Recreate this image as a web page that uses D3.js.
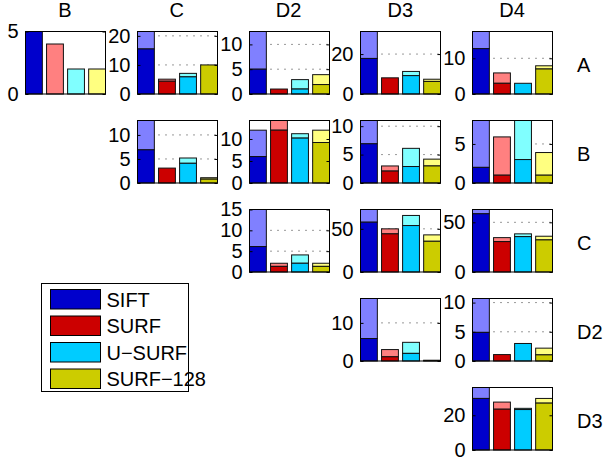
<!DOCTYPE html>
<html><head><meta charset="utf-8">
<script src="https://cdn.jsdelivr.net/npm/d3@7"></script>
<style>
html,body{margin:0;padding:0;background:#fff;}
svg{display:block;font-family:"Liberation Sans",Arial,sans-serif;}
</style></head>
<body>
<svg id="chart" width="606" height="463"></svg>
<script>
// ---- data ----
const rowNames = ["A", "B", "C", "D2", "D3"];
const colNames = ["B", "C", "D2", "D3", "D4"];
const methods = ["SIFT", "SURF", "U\u2212SURF", "SURF\u2212128"];
const panelRow = ["A","A","A","A","A","B","B","B","B","C","C","C","D2","D2","D3"];
const panelCol = ["B","C","D2","D3","D4","C","D2","D3","D4","D2","D3","D4","D3","D4","D4"];
// lower (dark) part of each stacked bar
const darkValues = [
  [5, 0, 0, 0],
  [15.5, 4.4, 5.9, 10],
  [5, 1, 1, 1.9],
  [17.8, 8.1, 9.2, 6.3],
  [12.7, 3, 3, 7],
  [6.9, 3.1, 4.1, 0.8],
  [6, 12, 10.2, 9.2],
  [6.9, 2.1, 2.9, 3],
  [2, 1, 3, 1],
  [6.1, 1.35, 2.1, 1.35],
  [57.7, 44.2, 53.8, 35.6],
  [58.6, 30.6, 35.6, 32.3],
  [5.9, 1.1, 2, 0.1],
  [4.9, 1.1, 3, 1.05],
  [29.7, 23.5, 23.3, 27]
];
// total height of each stacked bar (dark + light)
const totalValues = [
  [5, 4, 2, 2],
  [21.5, 5.1, 7.1, 10],
  [12.6, 1, 2.9, 3.9],
  [31.3, 8.1, 11.3, 7.4],
  [17.5, 5.9, 3, 7.9],
  [13, 3.1, 5.2, 1.1],
  [12, 14.2, 11.2, 12],
  [11, 3, 6.1, 4.2],
  [8, 5.9, 8, 3.9],
  [15, 2.1, 4.1, 2.1],
  [72.4, 50, 65.5, 43],
  [62.9, 34.6, 38.4, 36],
  [16.4, 3, 4.9, 0.2],
  [10.7, 1.1, 3, 2.2],
  [36, 27.6, 24, 29.7]
];
const yTicks = [
  [0, 5], [0, 10, 20], [0, 5, 10], [0, 20], [0, 10],
  [0, 5, 10], [0, 5, 10], [0, 5, 10], [0, 5],
  [0, 5, 10, 15], [0, 50], [0, 50],
  [0, 10], [0, 5, 10],
  [0, 20]
];

// ---- styling ----
const darkColors = ["#0000cc", "#cc0000", "#00ccff", "#cccc00"];
const lightColors = ["#8080ff", "#ff8080", "#80ffff", "#ffff80"];

const svg = d3.select("#chart");
const colX = d3.scalePoint().domain(colNames).range([25, 472]);
const rowY = d3.scalePoint().domain(rowNames).range([31, 387]);
const pw = 80, ph = 62.5;

// column titles
svg.selectAll("text.coltitle").data(colNames).join("text")
  .attr("class", "coltitle")
  .attr("x", d => colX(d) + pw / 2)
  .attr("y", 17)
  .attr("text-anchor", "middle")
  .attr("font-size", 20)
  .text(d => d);

// row labels
svg.selectAll("text.rowlabel").data(rowNames).join("text")
  .attr("class", "rowlabel")
  .attr("x", 577)
  .attr("y", d => rowY(d) + 41)
  .attr("font-size", 20)
  .text(d => d);

panelRow.forEach((r, p) => {
  const g = svg.append("g")
    .attr("transform", `translate(${Math.round(colX(panelCol[p])) + 0.5},${Math.round(rowY(r)) + 0.5})`);
  const dark = darkValues[p], total = totalValues[p];
  const ymax = d3.max(total);
  const x = d3.scaleLinear().domain([0.6, 4.4]).range([0, pw]);
  const y = d3.scaleLinear().domain([0, ymax]).range([ph, 0]);

  g.append("rect").attr("width", pw).attr("height", ph).attr("fill", "#fff");

  // dotted grid
  g.selectAll("line.grid").data(yTicks[p].filter(t => t > 0)).join("line")
    .attr("x1", 0).attr("x2", pw)
    .attr("y1", d => y(d)).attr("y2", d => y(d))
    .attr("stroke", "#333").attr("stroke-width", 1)
    .attr("stroke-dasharray", "1,6");

  const idx = [0, 1, 2, 3];
  // light (upper) parts
  g.selectAll("rect.light").data(idx.filter(i => total[i] > dark[i])).join("rect")
    .attr("x", i => x(i + 1 - 0.4))
    .attr("width", i => x(i + 1 + 0.4) - x(i + 1 - 0.4))
    .attr("y", i => y(total[i]))
    .attr("height", i => y(dark[i]) - y(total[i]))
    .attr("fill", i => lightColors[i])
    .attr("stroke", "#111").attr("stroke-width", 1);
  // dark (lower) parts
  g.selectAll("rect.dark").data(idx.filter(i => dark[i] > 0)).join("rect")
    .attr("x", i => x(i + 1 - 0.4))
    .attr("width", i => x(i + 1 + 0.4) - x(i + 1 - 0.4))
    .attr("y", i => y(dark[i]))
    .attr("height", i => y(0) - y(dark[i]))
    .attr("fill", i => darkColors[i])
    .attr("stroke", "#111").attr("stroke-width", 1);

  // box
  g.append("rect").attr("width", pw).attr("height", ph)
    .attr("fill", "none").attr("stroke", "#000").attr("stroke-width", 1);

  // y axis
  const ax = g.append("g").call(d3.axisLeft(y).tickValues(yTicks[p]).tickSize(-3).tickPadding(7).tickFormat(d3.format("d")));
  ax.select(".domain").remove();
  ax.selectAll("line").attr("stroke", "#000");
  ax.selectAll("text").attr("font-size", 20).attr("fill", "#000")
    .attr("font-family", "Liberation Sans, Arial, sans-serif");
  const ax2 = g.append("g").attr("transform", `translate(${pw},0)`)
    .call(d3.axisRight(y).tickValues(yTicks[p]).tickSize(-3).tickFormat(""));
  ax2.select(".domain").remove();
  ax2.selectAll("line").attr("stroke", "#000");
});

// legend
const lg = svg.append("g").attr("transform", "translate(41.5,283.5)");
lg.append("rect").attr("width", 147).attr("height", 108)
  .attr("fill", "#fff").attr("stroke", "#000").attr("stroke-width", 1);
const items = lg.selectAll("g.item").data(methods).join("g")
  .attr("class", "item")
  .attr("transform", (d, i) => `translate(9,${6 + i * 26.5})`);
items.append("rect").attr("width", 50).attr("height", 19.5)
  .attr("fill", (d, i) => darkColors[i]).attr("stroke", "#000").attr("stroke-width", 1);
items.append("text").attr("x", 56).attr("y", 17).attr("font-size", 20).text(d => d);
</script>
</body></html>
